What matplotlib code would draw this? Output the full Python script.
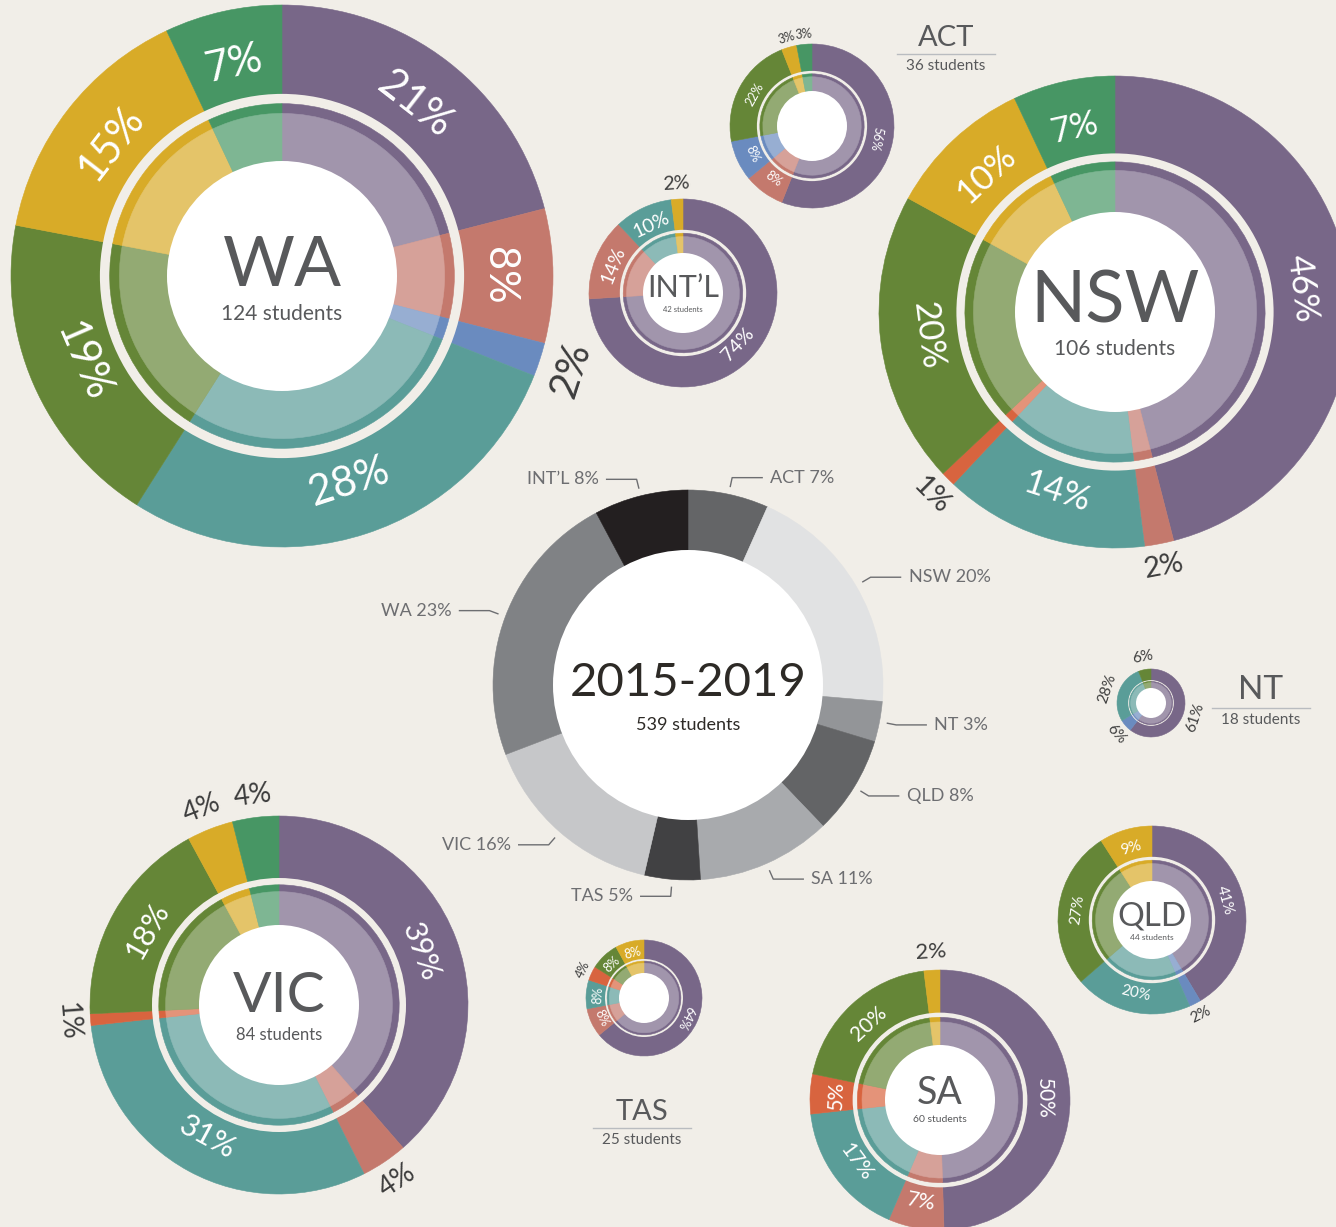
import numpy as np
import matplotlib

matplotlib.use("Agg")
import matplotlib.pyplot as plt  # noqa: E402
from matplotlib.colors import to_rgb  # noqa: E402
from matplotlib.patches import Circle, Wedge  # noqa: E402

plt.rcParams["font.family"] = ["Lato", "DejaVu Sans"]

W, H = 1336, 1227
BG = "#f1eee8"
DARK = "#3d3d3d"
TITLE_C = "#58595b"

# segment colours, clockwise from 12 o'clock
SEG_COLORS = ["#786788", "#c4796d", "#6a8bbf", "#5a9d98",
              "#d8643f", "#658637", "#d8ab28", "#479664"]

# percent of students per segment, same order as SEG_COLORS
WA = [21, 8, 2, 28, 0, 19, 15, 7]
NSW = [46, 2, 0, 14, 1, 20, 10, 7]
VIC = [39, 4, 0, 31, 1, 18, 4, 4]
SA = [50, 7, 0, 17, 5, 20, 2, 0]
QLD = [41, 0, 2, 20, 0, 27, 9, 0]
INTL = [74, 14, 0, 10, 0, 0, 2, 0]
ACT = [56, 8, 8, 0, 0, 22, 3, 3]
TAS = [64, 8, 0, 8, 4, 8, 8, 0]
NT = [61, 0, 6, 28, 0, 6, 0, 0]

# overall split, clockwise from 12 o'clock
STATES = ["ACT", "NSW", "NT", "QLD", "SA", "TAS", "VIC", "WA", "INT\u2019L"]
STUDENTS = [36, 106, 18, 44, 60, 25, 84, 124, 42]
GREYS = ["#646567", "#e1e2e3", "#939598", "#636466", "#a8aaad",
         "#414143", "#c6c7c9", "#808285", "#231f20"]
PERIOD = "2015-2019"


def pos(cx, cy, r, a):
    """Point at radius r, angle a (deg clockwise from 12 o'clock), y down."""
    t = np.radians(a)
    return cx + r * np.sin(t), cy - r * np.cos(t)


def lighten(c, f=0.3):
    rgb = np.array(to_rgb(c))
    return tuple(rgb + (1 - rgb) * f)


def pie(ax, vals, colors, cx, cy, r, light=False):
    frac = np.asarray(vals, float) / np.sum(vals)
    edges = np.concatenate([[0], np.cumsum(frac)]) * 360
    for i, v in enumerate(vals):
        if v <= 0:
            continue
        c = lighten(colors[i]) if light else colors[i]
        ax.add_patch(Wedge((cx, cy), r, edges[i] - 90, edges[i + 1] - 90,
                           fc=c, ec=c, lw=0.4))
    return edges


def donut(ax, vals, cx, cy, R, hole, fs_in, fs_out, all_out=False):
    edges = pie(ax, vals, SEG_COLORS, cx, cy, R)
    ax.add_patch(Circle((cx, cy), 0.672 * R, fc=BG, ec="none"))
    pie(ax, vals, SEG_COLORS, cx, cy, 0.636 * R)
    pie(ax, vals, SEG_COLORS, cx, cy, 0.600 * R, light=True)
    ax.add_patch(Circle((cx, cy), hole, fc="white", ec="none"))

    for i, v in enumerate(vals):
        if v <= 0:
            continue
        a = (edges[i] + edges[i + 1]) / 2
        outside = all_out or v < 5
        if outside:
            r = R + 0.8 * fs_out * 100 / 72
            flip = 90 < a < 270
            fs, col = fs_out, DARK
        else:
            r = 0.8 * R
            flip = 120 < a < 270
            fs, col = fs_in, "white"
        x, y = pos(cx, cy, r, a)
        rot = 180 - a if flip else -a
        ax.text(x, y, f"{v}%", color=col, fontsize=fs, rotation=rot,
                rotation_mode="anchor", ha="center", va="center")


def centre_title(ax, cx, cy, title, sub, fs_t, fs_s, dy_t, dy_s, color=TITLE_C):
    ax.text(cx, cy + dy_t, title, ha="center", va="center", fontsize=fs_t,
            color=color)
    ax.text(cx, cy + dy_s, sub, ha="center", va="center", fontsize=fs_s,
            color=color)


def side_title(ax, cx, y_line, title, sub, fs_t, fs_s):
    ax.text(cx, y_line - 3, title, ha="center", va="bottom", fontsize=fs_t,
            color=TITLE_C)
    ax.plot([cx - 49, cx + 49], [y_line, y_line], color="#b9bcc0", lw=1)
    ax.text(cx, y_line + 5, sub, ha="center", va="top", fontsize=fs_s,
            color=TITLE_C)


fig = plt.figure(figsize=(W / 100, H / 100), dpi=100, facecolor=BG)
ax = fig.add_axes([0, 0, 1, 1])
ax.set_xlim(0, W)
ax.set_ylim(H, 0)
ax.axis("off")
ax.set_facecolor(BG)

# state donuts
donut(ax, WA, 282, 276, 271, 115, 30, 29)
centre_title(ax, 282, 276, "WA", f"{STUDENTS[7]} students", 50, 15, -9, 38)

donut(ax, NSW, 1115, 312, 236, 100, 25, 21)
centre_title(ax, 1115, 312, "NSW", f"{STUDENTS[1]} students", 52, 15, -10, 37)

donut(ax, VIC, 279, 1005, 189, 80, 22, 20)
centre_title(ax, 279, 1005, "VIC", f"{STUDENTS[6]} students", 41, 12, -8, 30)

donut(ax, SA, 940, 1100, 130, 55, 15, 16)
centre_title(ax, 940, 1100, "SA", f"{STUDENTS[4]} students", 27, 7.5, -7, 20)

donut(ax, QLD, 1152, 920, 94, 39, 11, 11)
centre_title(ax, 1152, 920, "QLD", f"{STUDENTS[3]} students", 24, 6, -4, 17)

donut(ax, INTL, 683, 293, 94, 40, 14, 14)
centre_title(ax, 683, 293, "INT\u2019L", f"{STUDENTS[8]} students", 22, 5.5, -5, 16)

donut(ax, ACT, 812, 126, 82, 35, 9, 9)
side_title(ax, 946, 54, "ACT", f"{STUDENTS[0]} students", 21, 11)

donut(ax, TAS, 644, 998, 58, 25, 9, 9)
side_title(ax, 642, 1128, "TAS", f"{STUDENTS[5]} students", 21, 11)

donut(ax, NT, 1151, 703, 34, 15, 10, 11, all_out=True)
side_title(ax, 1261, 708, "NT", f"{STUDENTS[2]} students", 24, 11)

# overall donut in the middle
CX, CY, CR = 688, 685, 195
edges = pie(ax, STUDENTS, GREYS, CX, CY, CR)
ax.add_patch(Circle((CX, CY), 135, fc="white", ec="none"))
total = sum(STUDENTS)
centre_title(ax, CX, CY, PERIOD, f"{total} students", 34, 13, -2, 40,
             color="#2d2a26")

for i, name in enumerate(STATES):
    a = (edges[i] + edges[i + 1]) / 2
    p0 = pos(CX, CY, CR + 8, a)
    p1 = pos(CX, CY, CR + 17, a)
    side = 1 if np.sin(np.radians(a)) > 0 else -1
    p2 = (p1[0] + side * 30, p1[1])
    ax.plot([p0[0], p1[0], p2[0]], [p0[1], p1[1], p2[1]],
            color="#6d6e71", lw=1)
    share = round(100 * STUDENTS[i] / total)
    ax.text(p2[0] + side * 8, p2[1], f"{name} {share}%",
            ha="left" if side > 0 else "right", va="center",
            fontsize=13, color="#6d6e71")

fig.savefig("out.png", dpi=100, facecolor=BG)
